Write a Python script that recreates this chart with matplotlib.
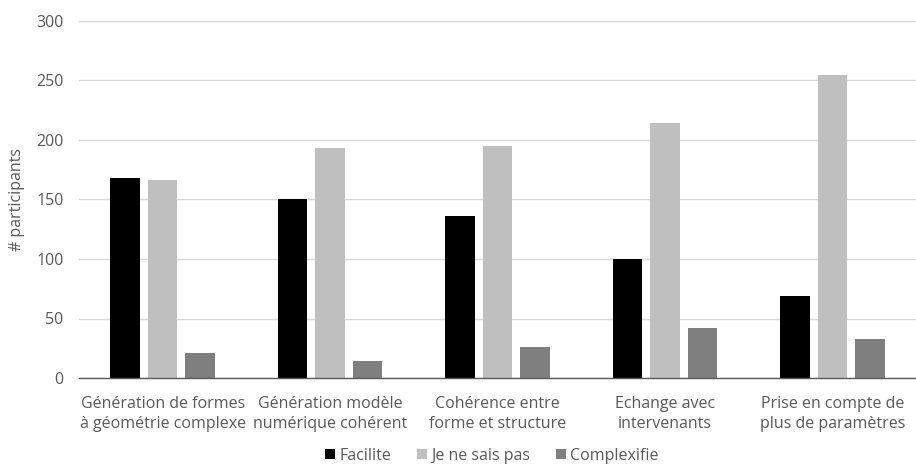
import numpy as np
import matplotlib
matplotlib.use("Agg")
import matplotlib.pyplot as plt

categories = [
    "Génération de formes\nà géométrie complexe",
    "Génération modèle\nnumérique cohérent",
    "Cohérence entre\nforme et structure",
    "Echange avec\nintervenants",
    "Prise en compte de\nplus de paramètres",
]
series_names = ["Facilite", "Je ne sais pas", "Complexifie"]
facilite = [168, 150, 136, 100, 69]
je_ne_sais_pas = [166, 193, 195, 214, 255]
complexifie = [21, 14, 26, 42, 33]
y_ticks = [0, 50, 100, 150, 200, 250, 300]

colors = ["#000000", "#bfbfbf", "#7f7f7f"]
text_color = "#595959"
fs = 11.5

plt.rcParams["font.family"] = ["Open Sans", "DejaVu Sans"]

fig = plt.figure(figsize=(9.16, 4.66), dpi=100)
ax = fig.add_axes([79 / 916, 1 - 378 / 466, 837 / 916, 357 / 466])

x = np.arange(len(categories))
width = 0.176
step = 0.224
for i, (vals, name, c) in enumerate(zip([facilite, je_ne_sais_pas, complexifie], series_names, colors)):
    ax.bar(x + (i - 1) * step, vals, width, color=c, label=name, zorder=3)

ax.set_xlim(-0.5, len(categories) - 0.5)
ax.set_ylim(0, 300)
ax.set_yticks(y_ticks)
ax.yaxis.grid(True, color="#d9d9d9", linewidth=1, zorder=0)
ax.set_axisbelow(True)
for s in ["top", "right", "left"]:
    ax.spines[s].set_visible(False)
ax.spines["bottom"].set_color("#595959")
ax.spines["bottom"].set_linewidth(1)
ax.spines["bottom"].set_zorder(4)
ax.tick_params(axis="both", length=0, colors=text_color, labelsize=fs)
ax.tick_params(axis="y", pad=11)
ax.tick_params(axis="x", pad=13)
ax.set_xticks(x)
ax.set_xticklabels(categories, linespacing=1.35)
ax.set_ylabel("# participants", color=text_color, fontsize=fs, labelpad=8)

ax.legend(loc="center", bbox_to_anchor=(492 / 916, 1 - 456 / 466),
          bbox_transform=fig.transFigure, ncol=3, frameon=False, fontsize=fs,
          handlelength=0.6, handleheight=0.6, handletextpad=0.3, columnspacing=1.6,
          labelcolor=text_color, borderpad=0, borderaxespad=0)

fig.savefig("out.png", dpi=100)
